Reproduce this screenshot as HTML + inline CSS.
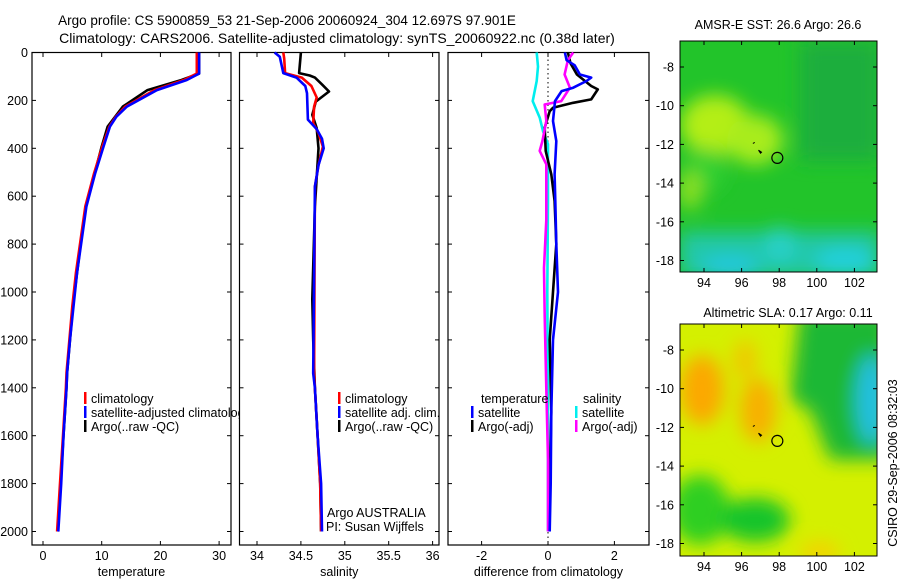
<!DOCTYPE html>
<html><head><meta charset="utf-8"><style>
body{margin:0;background:#fff}
svg{display:block;font-family:"Liberation Sans",sans-serif}
</style></head><body>
<svg id="fig" width="900" height="580" viewBox="0 0 900 580" xmlns="http://www.w3.org/2000/svg">
<defs>
<filter id="bl" x="-50%" y="-50%" width="200%" height="200%"><feGaussianBlur stdDeviation="9"/></filter>
<clipPath id="m1c"><rect x="680" y="41" width="197" height="231"/></clipPath>
<clipPath id="m2c"><rect x="680" y="324" width="197" height="232"/></clipPath>
</defs>
<text x="287" y="25" font-size="13.5" text-anchor="middle">Argo profile: CS 5900859_53 21-Sep-2006 20060924_304 12.697S 97.901E</text>
<text x="337" y="43" font-size="14" text-anchor="middle">Climatology: CARS2006. Satellite-adjusted climatology: synTS_20060922.nc (0.38d later)</text>
<g id="plots"></g>
<g clip-path="url(#m1c)">
<rect x="680" y="41" width="197" height="231" fill="#22c42a"/>
<g filter="url(#bl)">
<rect x="800" y="41" width="80" height="120" fill="#1eae3e"/>
<ellipse cx="715" cy="125" rx="35" ry="30" fill="#b4ee18"/>
<ellipse cx="755" cy="140" rx="28" ry="25" fill="#a8ec1c"/>
<ellipse cx="705" cy="170" rx="20" ry="22" fill="#30d030"/>
<ellipse cx="690" cy="190" rx="12" ry="20" fill="#8ee020"/>
<rect x="680" y="232" width="200" height="45" fill="#22c8a8"/>
<ellipse cx="730" cy="268" rx="30" ry="12" fill="#22c8e0"/>
<ellipse cx="780" cy="245" rx="15" ry="18" fill="#28d0c8"/>
<ellipse cx="845" cy="262" rx="30" ry="14" fill="#22d0dc"/>
</g>
</g>
<rect x="680" y="41" width="197" height="231" fill="none" stroke="#000"/>
<text x="778" y="29" font-size="12.5" text-anchor="middle">AMSR-E SST: 26.6 Argo: 26.6</text>
<g clip-path="url(#m2c)">
<rect x="680" y="324" width="197" height="232" fill="#d4f000"/>
<g filter="url(#bl)">
<ellipse cx="702" cy="390" rx="22" ry="35" fill="#fca800"/>
<ellipse cx="758" cy="410" rx="18" ry="32" fill="#f8b000"/>
<ellipse cx="745" cy="360" rx="12" ry="20" fill="#f0c800"/>
<polygon points="800,310 890,310 890,460 830,460 810,410 790,400" fill="#1cb834"/>
<ellipse cx="872" cy="400" rx="16" ry="45" fill="#20c0e0"/>
<ellipse cx="700" cy="510" rx="30" ry="35" fill="#2ecf20"/>
<ellipse cx="755" cy="520" rx="35" ry="22" fill="#18c42a"/>
<ellipse cx="820" cy="552" rx="20" ry="10" fill="#f6d000"/>
</g>
</g>
<rect x="680" y="324" width="197" height="232" fill="none" stroke="#000"/>
<text x="788" y="317" font-size="12.5" text-anchor="middle">Altimetric SLA: 0.17 Argo: 0.11</text>
<text transform="translate(897,463) rotate(-90)" font-size="12.5" text-anchor="middle">CSIRO 29-Sep-2006 08:32:03</text>
<g id="maps"></g>
</svg>
<script>
const NS="http://www.w3.org/2000/svg";
const tDepth=[0,88,115,157,226,268,310,393,504,643,782,921,1060,1199,1338,1400,1600,1800,2000];
const tBlue=[26.6,26.6,24.5,19.4,14.3,12.5,11.4,10.3,8.9,7.4,6.6,5.8,5.2,4.6,4.1,4.0,3.5,3.1,2.6];
const tRed=[26.2,26.2,24.0,19.0,14.0,12.4,11.3,10.1,8.7,7.2,6.4,5.6,5.0,4.5,4.0,3.9,3.4,2.9,2.4];
const tBlack=[26.6,26.6,23.6,17.8,13.6,12.3,11.0,10.0,8.8,7.3,6.5,5.8,5.1,4.6,4.1,4.0,3.5,3.0,2.5];
const sBlueD=[0,18,86,105,140,170,280,320,360,400,470,560,1340,1400,1600,1800,2000];
const sBlue=[34.20,34.26,34.30,34.45,34.55,34.57,34.58,34.68,34.74,34.76,34.70,34.66,34.64,34.66,34.69,34.73,34.74];
const sRedD=[0,25,86,105,140,188,226,295,336,393,470,560,1340,1400,1600,1800,2000];
const sRed=[34.30,34.31,34.32,34.51,34.62,34.68,34.65,34.64,34.70,34.75,34.70,34.66,34.65,34.66,34.69,34.72,34.73];
const sBlackD=[0,86,96,105,133,163,205,260,316,400,643,1030,1200,1400,1600,1800,2000];
const sBlack=[34.50,34.48,34.60,34.66,34.74,34.82,34.67,34.63,34.68,34.70,34.66,34.63,34.64,34.66,34.69,34.72,34.73];
const dTBlueD=[0,32,53,92,105,119,147,161,203,286,370,509,620,800,1000,1200,1500,1800,2000];
const dTBlue=[0.51,0.56,0.8,0.96,1.3,1.16,0.76,0.41,0.21,0.15,0.25,0.2,0.22,0.25,0.3,0.15,0.1,0.08,0.05];
const dTBlackD=[0,46,92,140,154,196,210,231,245,314,411,509,620,800,1000,1200,1500,1800,2000];
const dTBlack=[0.6,0.68,0.87,1.3,1.5,1.3,0.76,0.15,0.05,-0.1,-0.07,0.1,0.2,0.25,0.15,0.05,0.1,0.05,0.02];
const dSCyanD=[0,59,119,203,272,328,383,620,1000,1500,2000];
const dSCyan=[-0.34,-0.3,-0.34,-0.46,-0.25,-0.15,0,0,-0.02,0,0];
const dSMagD=[0,32,92,147,203,217,286,370,411,467,700,900,1100,1400,1700,2000];
const dSMag=[0.76,0.6,0.5,0.66,0.4,-0.1,-0.05,-0.17,-0.25,-0.05,-0.05,-0.12,-0.1,-0.05,0,0];
const yTicks=[0,200,400,600,800,1000,1200,1400,1600,1800,2000];
const tTicks=[0,10,20,30];
const sTicks=[34,34.5,35,35.5,36];
const dTicks=[-2,0,2];
const y=d=>52.5+d*0.2395;
const xT=v=>43+v*5.87, xS=v=>257+(v-34)*87.8, xD=v=>548+v*33.2;
const g=document.getElementById('plots');
function el(tag,at,parent){const e=document.createElementNS(NS,tag);for(const k in at)e.setAttribute(k,at[k]);(parent||g).appendChild(e);return e;}
function panel(name,x0,x1,xs,ticks,label,showY){
  const r=el('rect',{x:x0,y:52.5,width:x1-x0,height:492.5,fill:'#fff',stroke:'#000','stroke-width':1.2});
  
  
  yTicks.forEach(d=>{
    el('line',{x1:x0,x2:x0+4,y1:y(d),y2:y(d),stroke:'#000'});
    el('line',{x1:x1-4,x2:x1,y1:y(d),y2:y(d),stroke:'#000'});
    if(showY){const t=el('text',{x:x0-4,y:y(d)+4.5,'font-size':12.5,'text-anchor':'end'});t.textContent=d;
      
      }
  });
  ticks.forEach(v=>{const px=xs(v);
    el('line',{x1:px,x2:px,y1:52.5,y2:57,stroke:'#000'});
    el('line',{x1:px,x2:px,y1:541,y2:545,stroke:'#000'});
    const t=el('text',{x:px,y:560,'font-size':12.5,'text-anchor':'middle'});t.textContent=v;
    
    
  });
  const l=el('text',{x:(x0+x1)/2,y:576,'font-size':12.5,'text-anchor':'middle'});l.textContent=label;
  
  
}
function line(name,xs,vals,ds,col){
  const pts=vals.map((v,i)=>xs(v).toFixed(1)+','+y(ds[i]).toFixed(1)).join(' ');
  const p=el('polyline',{points:pts,fill:'none',stroke:col,'stroke-width':2.6,'stroke-linejoin':'round'});
  
  
}
function legend(name,x,yy,items,headX){
  items.forEach((it,i)=>{
    const yy2=yy+i*14;
    let tx;
    if(it[1]){el('rect',{x:x,y:yy2-11,width:2.5,height:12,fill:it[1]});tx=x+7;}
    else tx=headX;
    const t=el('text',{x:tx,y:yy2,'font-size':12.5});t.textContent=it[0];
    
    
  });
}
panel('temperature',32,231,xT,tTicks,'temperature',true);
line('temp-argo',xT,tBlack,tDepth,'#000');
line('temp-climatology',xT,tRed,tDepth,'#f00');
line('temp-satellite-adjusted',xT,tBlue,tDepth,'#00f');
legend('temp-legend',84,403,[['climatology','#f00'],['satellite-adjusted climatology','#00f'],['Argo(..raw -QC)','#000']]);
panel('salinity',239.5,439,xS,sTicks,'salinity',false);
line('sal-argo',xS,sBlack,sBlackD,'#000');
line('sal-climatology',xS,sRed,sRedD,'#f00');
line('sal-satellite-adjusted',xS,sBlue,sBlueD,'#00f');
legend('sal-legend',338,403,[['climatology','#f00'],['satellite adj. clim.','#00f'],['Argo(..raw -QC)','#000']]);
{const a=el('text',{x:327,y:517,'font-size':12.5});a.textContent='Argo AUSTRALIA';


const b=el('text',{x:326,y:531,'font-size':12.5});b.textContent='PI: Susan Wijffels';

}
panel('difference',448,649,xD,dTicks,'difference from climatology',false);
el('line',{x1:xD(0),x2:xD(0),y1:55,y2:545,stroke:'#000','stroke-dasharray':'1.5,3'});
line('diff-sal-satellite',xD,dSCyan,dSCyanD,'#0ee');
line('diff-temp-argo',xD,dTBlack,dTBlackD,'#000');
line('diff-sal-argo',xD,dSMag,dSMagD,'#f0f');
line('diff-temp-satellite',xD,dTBlue,dTBlueD,'#00f');
legend('diff-temp-legend',471,403,[['temperature',null],['satellite','#00f'],['Argo(-adj)','#000']],481);
legend('diff-sal-legend',575,403,[['salinity',null],['satellite','#0ee'],['Argo(-adj)','#f0f']],583);
const lonTicks=[94,96,98,100,102];
const latTicks=[-8,-10,-12,-14,-16,-18];
const argoLon=97.901, argoLat=-12.697;
const mg=document.getElementById('maps');
function map(name,x0,x1,y0,y1,lat8y){
  const mx=v=>704+(v-94)*18.8, my=v=>lat8y+(-8-v)*19.35;
  lonTicks.forEach(v=>{const px=mx(v);
    el('line',{x1:px,x2:px,y1:y0,y2:y0+4,stroke:'#000'},mg);
    el('line',{x1:px,x2:px,y1:y1-4,y2:y1,stroke:'#000'},mg);
    const t=el('text',{x:px,y:y1+15,'font-size':12.5,'text-anchor':'middle'},mg);t.textContent=v;
    
    });
  latTicks.forEach(v=>{const py=my(v);
    el('line',{x1:x0,x2:x0+4,y1:py,y2:py,stroke:'#000'},mg);
    el('line',{x1:x1-4,x2:x1,y1:py,y2:py,stroke:'#000'},mg);
    const t=el('text',{x:x0-6,y:py+4.5,'font-size':12.5,'text-anchor':'end'},mg);t.textContent=v;
    
    });
  const c=el('circle',{cx:mx(argoLon),cy:my(argoLat),r:5.5,fill:'none',stroke:'#000','stroke-width':1.2},mg);
  
  
  el('path',{d:`M${mx(96.9)} ${my(-12.3)} l3 2 l-1 1 z`,fill:'#000',stroke:'#000'},mg);
  el('line',{x1:mx(96.6),y1:my(-11.95),x2:mx(96.7),y2:my(-11.9),stroke:'#000'},mg);
}
map('sst-map',680,877,41,272,67);
map('sla-map',680,877,324,556,350);
</script>
</body></html>
